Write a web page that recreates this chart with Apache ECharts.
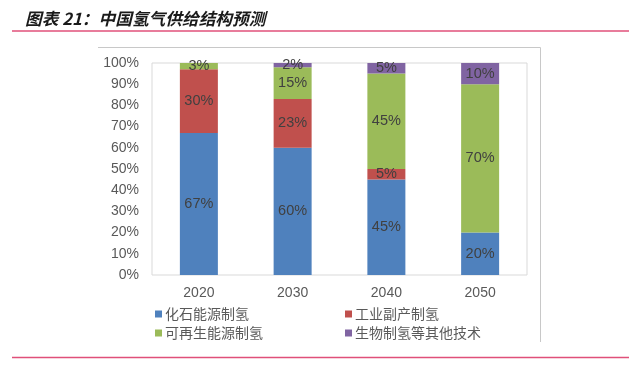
<!DOCTYPE html>
<html><head><meta charset="utf-8">
<script src="https://cdn.jsdelivr.net/npm/echarts@6/dist/echarts.min.js"></script>
<style>html,body{margin:0;padding:0;background:#fff}#c{width:640px;height:368px}</style>
</head><body><div id="c"></div>
<script>
var categories = ['2020', '2030', '2040', '2050'];
var fossil = [67, 60, 45, 20];
var industrial = [30, 23, 5, 0];
var renewable = [3, 15, 45, 70];
var other = [0, 2, 5, 10];
var seriesNames = ['化石能源制氢', '工业副产制氢', '可再生能源制氢', '生物制氢等其他技术'];
var yTicks = [0, 10, 20, 30, 40, 50, 60, 70, 80, 90, 100];
var titleText = '图表 21：中国氢气供给结构预测';

var colors = ['#4F81BD', '#C0504D', '#9BBB59', '#8064A2'];
var font = 'Arial, "Liberation Sans", "Noto Sans CJK SC", sans-serif';
function mk(name, data, color) {
  return {
    name: name, type: 'bar', stack: 'total', data: data, barWidth: 38,
    itemStyle: { color: color },
    label: {
      show: true, position: 'inside', color: '#404040', fontSize: 14.5, fontFamily: font,
      formatter: function (p) { return p.value ? p.value + '%' : ''; }
    }
  };
}
var chart = echarts.init(document.getElementById('c'));
chart.setOption({
  animation: false,
  title: {
    text: titleText, left: 20, top: 5,
    textStyle: { fontSize: 16.7, fontWeight: 'bold', fontStyle: 'italic', color: '#1a1a1a', fontFamily: '"Noto Sans CJK SC", sans-serif' }
  },
  grid: { left: 152, top: 63, width: 375, height: 212, show: true, borderColor: '#d9d9d9', borderWidth: 1 },
  xAxis: {
    type: 'category', data: categories,
    axisLine: { show: false }, axisTick: { show: false },
    axisLabel: { color: '#595959', fontSize: 14, fontFamily: font, margin: 11 }
  },
  yAxis: {
    type: 'value', min: 0, max: 100, interval: 10,
    splitLine: { show: false }, axisLine: { show: false }, axisTick: { show: false },
    axisLabel: { color: '#595959', fontSize: 14, fontFamily: font, margin: 13, formatter: function (v) { return yTicks.indexOf(v) >= 0 ? v + '%' : ''; } }
  },
  legend: [
    { data: [seriesNames[0], seriesNames[2]], orient: 'vertical', left: 150, top: 302, itemWidth: 7, itemHeight: 7, itemGap: 5, icon: 'rect',
      textStyle: { fontSize: 14, color: '#595959', fontFamily: '"Noto Sans CJK SC", sans-serif', padding: [0, 0, 0, -2] } },
    { data: [seriesNames[1], seriesNames[3]], orient: 'vertical', left: 340, top: 302, itemWidth: 7, itemHeight: 7, itemGap: 5, icon: 'rect',
      textStyle: { fontSize: 14, color: '#595959', fontFamily: '"Noto Sans CJK SC", sans-serif', padding: [0, 0, 0, -2] } }
  ],
  graphic: [
    { type: 'line', shape: { x1: 12, y1: 31, x2: 629, y2: 31 }, style: { stroke: '#E0507A', lineWidth: 1.5 } },
    { type: 'line', shape: { x1: 12, y1: 357.5, x2: 629, y2: 357.5 }, style: { stroke: '#E0507A', lineWidth: 1.5 } },
    { type: 'line', shape: { x1: 98, y1: 47.5, x2: 540.5, y2: 47.5 }, style: { stroke: '#c8c8c8', lineWidth: 1 } },
    { type: 'line', shape: { x1: 540.5, y1: 47.5, x2: 540.5, y2: 342 }, style: { stroke: '#c8c8c8', lineWidth: 1 } }
  ],
  series: [
    mk(seriesNames[0], fossil, colors[0]),
    mk(seriesNames[1], industrial, colors[1]),
    mk(seriesNames[2], renewable, colors[2]),
    mk(seriesNames[3], other, colors[3])
  ]
});
</script></body></html>
